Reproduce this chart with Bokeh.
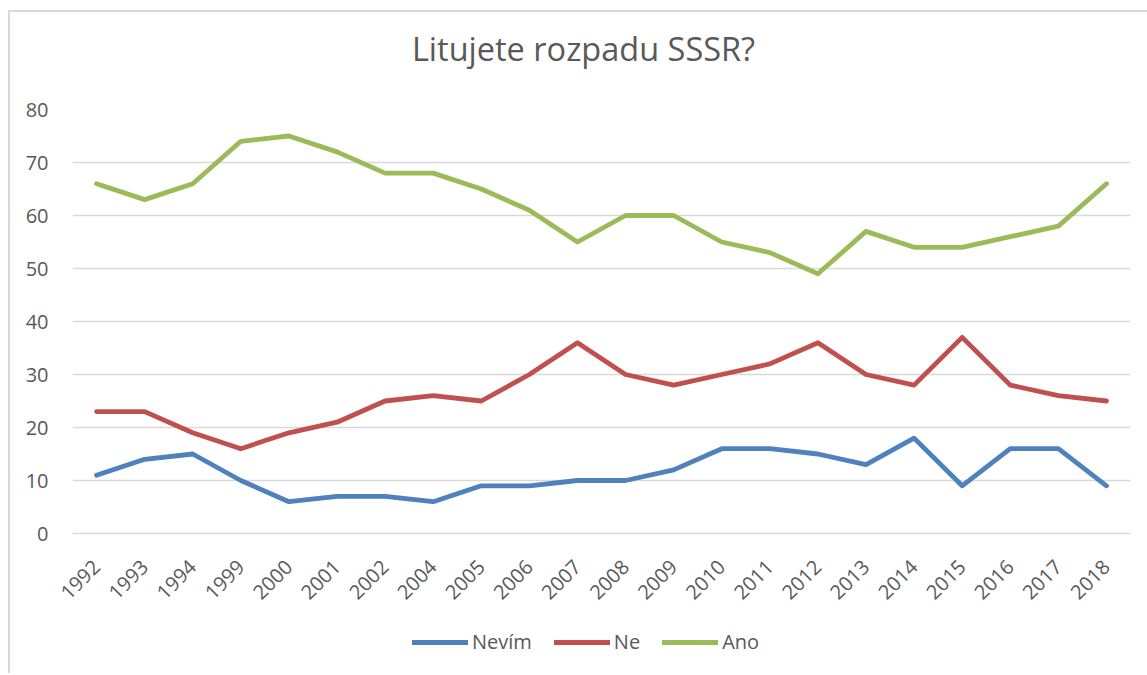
from bokeh.plotting import figure
from bokeh.layouts import column
from bokeh.models import FactorRange, Range1d, Legend, LegendItem, FixedTicker, Label
from bokeh.embed import file_html
from bokeh.resources import INLINE
import math
import numpy as np

years = ["1992", "1993", "1994", "1999", "2000", "2001", "2002", "2004", "2005", "2006",
         "2007", "2008", "2009", "2010", "2011", "2012", "2013", "2014", "2015", "2016",
         "2017", "2018"]
nevim = [11, 14, 15, 10, 6, 7, 7, 6, 9, 9, 10, 10, 12, 16, 16, 15, 13, 18, 9, 16, 16, 9]
ne = [23, 23, 19, 16, 19, 21, 25, 26, 25, 30, 36, 30, 28, 30, 32, 36, 30, 28, 37, 28, 26, 25]
ano = [66, 63, 66, 74, 75, 72, 68, 68, 65, 61, 55, 60, 60, 55, 53, 49, 57, 54, 54, 56, 58, 66]
series_names = ["Nevím", "Ne", "Ano"]
y_ticks = [0, 10, 20, 30, 40, 50, 60, 70, 80]
title_text = "Litujete rozpadu SSSR?"

FONT = "Open Sans"
TXT = "#595959"
GRID = "#D9D9D9"
colors = ["#4F81BD", "#C0504D", "#9BBB59"]
W = 1137


def blank_fig(h):
    # frames are aligned with the main chart's frame inside the column
    f = figure(width=W, height=h, x_range=Range1d(72, 1130), y_range=Range1d(0, h),
               x_axis_type=None, y_axis_type=None, output_backend="svg", toolbar_location=None,
               min_border_left=62, min_border_right=17, min_border_top=0, min_border_bottom=0)
    f.outline_line_color = None
    f.grid.grid_line_color = None
    f.background_fill_color = "white"
    f.border_fill_color = "white"
    return f


# title strip
t = blank_fig(60)
t.add_layout(Label(x=583, y=24, text=title_text, text_align="center", text_baseline="middle",
                   text_font=FONT, text_font_size="32.5px", text_color=TXT))

# main chart
p = figure(width=W, height=541, x_range=FactorRange(*years, range_padding=0),
           y_range=Range1d(0, 80), output_backend="svg", toolbar_location=None,
           min_border_left=62, min_border_right=17, min_border_top=37, min_border_bottom=80)
p.outline_line_color = None
p.background_fill_color = "white"
p.border_fill_color = "white"

p.xgrid.grid_line_color = None
p.ygrid.grid_line_color = GRID
p.ygrid.grid_line_width = 1.5
p.yaxis.ticker = FixedTicker(ticks=y_ticks)

p.yaxis.axis_line_color = None
p.yaxis.major_tick_line_color = None
p.yaxis.minor_tick_line_color = None
p.yaxis.major_label_standoff = 18
p.yaxis.major_label_text_font = FONT
p.yaxis.major_label_text_font_size = "20px"
p.yaxis.major_label_text_color = TXT

p.xaxis.axis_line_color = GRID
p.xaxis.axis_line_width = 1.5
p.xaxis.major_tick_line_color = None
p.xaxis.minor_tick_line_color = None
p.xaxis.major_label_orientation = math.pi / 4
p.xaxis.major_label_standoff = 24
p.xaxis.major_label_text_font = FONT
p.xaxis.major_label_text_font_size = "20px"
p.xaxis.major_label_text_color = TXT

for vals, c in zip([nevim, ne, ano], colors):
    p.line(years, vals, line_color=c, line_width=4.8, line_join="round", line_cap="round")

# legend strip (key renderers hold no visible data; they only supply the legend swatches)
lg = blank_fig(60)
keys = [lg.line(np.array([np.nan]), np.array([np.nan]), line_color=c, line_width=4.8,
                line_cap="round") for c in colors]
legend = Legend(items=[LegendItem(label=n, renderers=[r]) for n, r in zip(series_names, keys)],
                orientation="horizontal", location=(340, 18))
legend.glyph_width = 56
legend.glyph_height = 24
legend.label_height = 24
legend.label_standoff = 4
legend.spacing = 22
legend.padding = 0
legend.margin = 0
legend.border_line_color = None
legend.background_fill_alpha = 0
legend.label_text_font = FONT
legend.label_text_font_size = "20px"
legend.label_text_color = TXT
lg.add_layout(legend, "center")

layout = column(t, p, lg, spacing=0)
layout.styles = {"margin-left": "8px", "margin-top": "10px",
                 "border-left": "2px solid #D9D9D9", "border-top": "2px solid #D9D9D9"}

open("out.html", "w").write(file_html(layout, INLINE))
